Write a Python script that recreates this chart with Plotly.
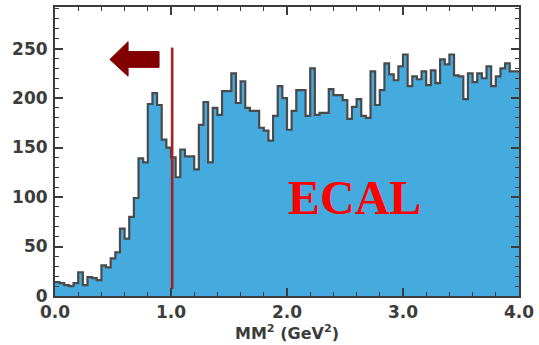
import numpy as np
import plotly.graph_objects as go

# ---- data ----
BIN_WIDTH = 0.04
X_START = 0.0
counts = [14, 13, 11, 10, 13, 24, 11, 19, 18, 16, 31, 29, 38, 44, 68, 58, 80, 99, 139, 135,
          194, 205, 193, 158, 150,
          140, 120, 148, 141, 141, 128, 173, 196, 135, 190, 183,
          207, 207, 225, 195, 217, 190, 187, 187, 170, 167, 157,
          182, 212, 200, 168, 187, 208, 208, 182, 230, 183, 185, 185,
          209, 203, 203, 198, 179, 191, 199, 182, 180, 227, 193, 208, 235, 224, 218, 232, 244,
          212, 222, 219, 227, 213, 228, 215, 239, 234, 244, 223, 222, 199, 225, 216, 225, 220,
          232, 212, 222, 230, 235, 227, 227]
CUT_X = 1.01
CUT_Y = [7, 251]
label_text = "ECAL"
label_pos = (2.58, 100)
arrow_tip = (0.473, 239)
arrow_head_x = 0.63
arrow_tail_x = 0.897
arrow_head_y = (222, 257)
arrow_shaft_y = (231, 247)
x_ticks = [0, 1, 2, 3, 4]
x_ticklabels = ["0.0", "1.0", "2.0", "3.0", "4.0"]
y_ticks = [0, 50, 100, 150, 200, 250]

edges = X_START + BIN_WIDTH * np.arange(len(counts) + 1)
ystep = list(counts) + [counts[-1]]

FILL = "#45aade"
EDGE = "#4a4a4a"
AXC = "#3c3c3c"

fig = go.Figure()
fig.add_trace(go.Scatter(x=edges, y=ystep, mode="lines", line=dict(shape="hv", color=EDGE, width=2.2),
                         fill="tozeroy", fillcolor=FILL, hoverinfo="skip", showlegend=False))
fig.add_trace(go.Scatter(x=[CUT_X, CUT_X], y=CUT_Y, mode="lines",
                         line=dict(color="#a82020", width=2.6), showlegend=False))

tx, ty = arrow_tip
path = (f"M {tx},{ty} L {arrow_head_x},{arrow_head_y[1]} L {arrow_head_x},{arrow_shaft_y[1]} "
        f"L {arrow_tail_x},{arrow_shaft_y[1]} L {arrow_tail_x},{arrow_shaft_y[0]} "
        f"L {arrow_head_x},{arrow_shaft_y[0]} L {arrow_head_x},{arrow_head_y[0]} Z")
fig.add_shape(type="path", path=path, xref="x", yref="y", fillcolor="#820000",
              line=dict(color="#820000", width=1))

fig.add_annotation(x=label_pos[0], y=label_pos[1], text=label_text, showarrow=False,
                   font=dict(family="Liberation Serif", size=48, color="#ff0000", weight="bold"))

tickfont = dict(family="DejaVu Sans", size=17, color=AXC, weight="bold")
fig.update_xaxes(range=[0, 4], tickvals=x_ticks, ticktext=x_ticklabels, ticks="inside", ticklen=8,
                 tickwidth=1.5, tickcolor=AXC, showline=True, linecolor=AXC, linewidth=2, mirror="ticks",
                 showgrid=False, zeroline=False, tickfont=tickfont,
                 minor=dict(dtick=0.2, ticks="inside", ticklen=4, tickcolor=AXC, tickwidth=1.2, showgrid=False),
                 title=dict(text="MM<sup>2</sup> (GeV<sup>2</sup>)", standoff=2,
                            font=dict(family="DejaVu Sans", size=16, color=AXC, weight="bold")))
fig.update_yaxes(range=[0, 292], tickvals=y_ticks, ticks="inside", ticklen=8, tickwidth=1.5, tickcolor=AXC,
                 showline=True, linecolor=AXC, linewidth=2, mirror="ticks", showgrid=False, zeroline=False,
                 tickfont=tickfont, ticklabelstandoff=2,
                 minor=dict(dtick=10, ticks="inside", ticklen=4, tickcolor=AXC, tickwidth=1.2, showgrid=False))
fig.update_layout(width=539, height=345, margin=dict(l=55, r=19, t=5, b=49),
                  plot_bgcolor="white", paper_bgcolor="white")
fig.write_html("out.html")
